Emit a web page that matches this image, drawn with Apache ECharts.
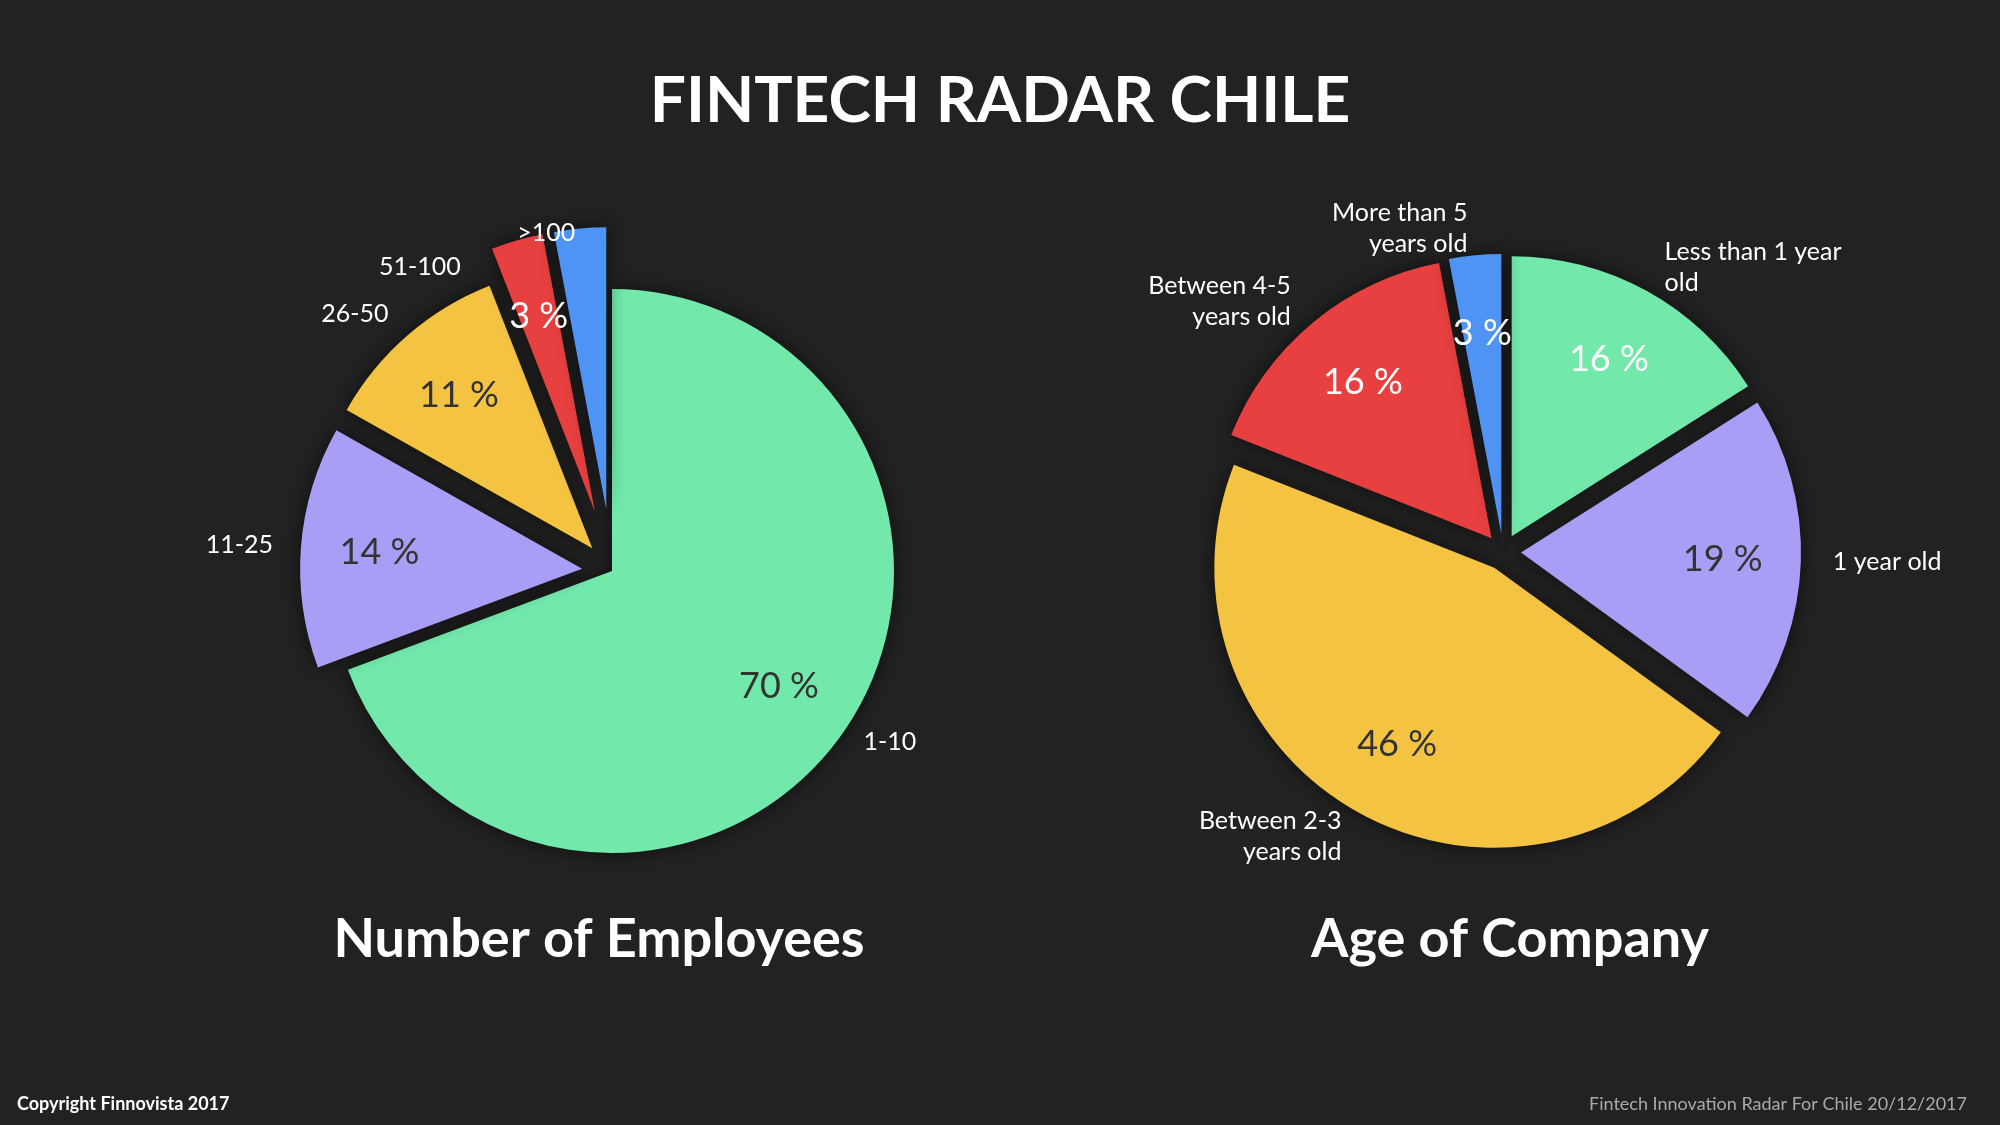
<!DOCTYPE html>
<html><head><meta charset="utf-8">
<script src="https://cdn.jsdelivr.net/npm/echarts@6/dist/echarts.min.js"></script>
<style>html,body{margin:0;background:#222;}#c{width:2000px;height:1125px;}</style>
</head><body><div id="c"></div>
<script>
const empCats = ['1-10','11-25','26-50','51-100','>100'];
const empVals = [70,14,11,3,3];
const ageCats = ['Less than 1 year\nold','1 year old','Between 2-3\nyears old','Between 4-5\nyears old','More than 5\nyears old'];
const ageVals = [16,19,46,16,3];
const colors = ['#72e8ab','#a99ef5','#f5c342','#e84040','#4f93f5'];
const empLabelCol = ['#333','#333','#333','#fff','#fff'];
const ageLabelCol = ['#fff','#333','#333','#fff','#fff'];
const F = 'Lato, "Open Sans", sans-serif';

function shape(cats, vals, visible, selected, center, r, offset) {
  return {type:'pie', center, radius:[0,r], startAngle:90, selectedMode:'multiple', selectedOffset:offset,
    label:{show:false}, labelLine:{show:false},
    data: cats.map((c,i)=>({name:c, value:vals[i], selected:selected(i),
      itemStyle:{color: visible(i)?colors[i]:'transparent', shadowBlur: visible(i)?18:0, shadowColor:'rgba(0,0,0,0.6)'}}))};
}
function inner(cats, vals, labelCols, visible, selected, center, r, offset) {
  return {type:'pie', silent:true, center, radius:[r*0.42,r], startAngle:90, selectedMode:'multiple', selectedOffset:offset,
    label:{position:'inside', fontSize:36, fontFamily:F, formatter:'{c} %'}, labelLine:{show:false},
    itemStyle:{color:'transparent'},
    data: cats.map((c,i)=>({name:c, value:vals[i], selected:selected(i), label:{show:visible(i), color:labelCols[i]}}))};
}
function outer(cats, vals, selected, center, r, offset, len) {
  return {type:'pie', silent:true, center, radius:[0,r], startAngle:90, selectedMode:'multiple', selectedOffset:offset,
    label:{position:'outside', color:'#fff', fontSize:25, fontFamily:F, lineHeight:31, formatter:'{b}'},
    labelLine:{show:false, length:len, length2:0},
    itemStyle:{color:'transparent'},
    data: cats.map((c,i)=>({name:c,value:vals[i],selected:selected(i)}))};
}
const LC = ['612','571'], RC = ['1503','552'];
const chart = echarts.init(document.getElementById('c'));
chart.setOption({
  backgroundColor:'#222',
  animation:false,
  title:[
    {text:'FINTECH RADAR CHILE', left:'center', top:64, textStyle:{color:'#fff', fontSize:64, fontWeight:'bold', fontFamily:F}},
    {text:'Number of Employees', left:594, textAlign:'center', top:908, textStyle:{color:'#fff', fontSize:54, fontWeight:'bold', fontFamily:F}},
    {text:'Age of Company', left:1505, textAlign:'center', top:908, textStyle:{color:'#fff', fontSize:54, fontWeight:'bold', fontFamily:F}},
    {text:'Copyright Finnovista 2017', left:12, top:1090, textStyle:{color:'#fff', fontSize:18, fontWeight:'bold', fontFamily:F}},
    {text:'Fintech Innovation Radar For Chile 20/12/2017', right:28, top:1090, textStyle:{color:'#aaa', fontSize:18, fontWeight:'normal', fontFamily:F}}
  ],
  series:[
    shape(empCats, empVals, i=>i<3, i=>i>0, LC, 282, 30),
    shape(empCats, empVals, i=>i>=3, i=>i>=3, LC, 282, 62),
    inner(empCats, empVals, empLabelCol, i=>i<3, i=>i>0, LC, 282, 30),
    inner(empCats, empVals, empLabelCol, i=>i>=3, i=>i>=3, LC, 282, 62),
    outer(empCats, empVals, i=>i>0, LC, 282, 40, 18),
    shape(ageCats, ageVals, i=>true, i=>true, RC, 280, 18),
    inner(ageCats, ageVals, ageLabelCol, i=>true, i=>true, RC, 280, 18),
    outer(ageCats, ageVals, i=>true, RC, 280, 25, 20)
  ]
});
</script></body></html>
